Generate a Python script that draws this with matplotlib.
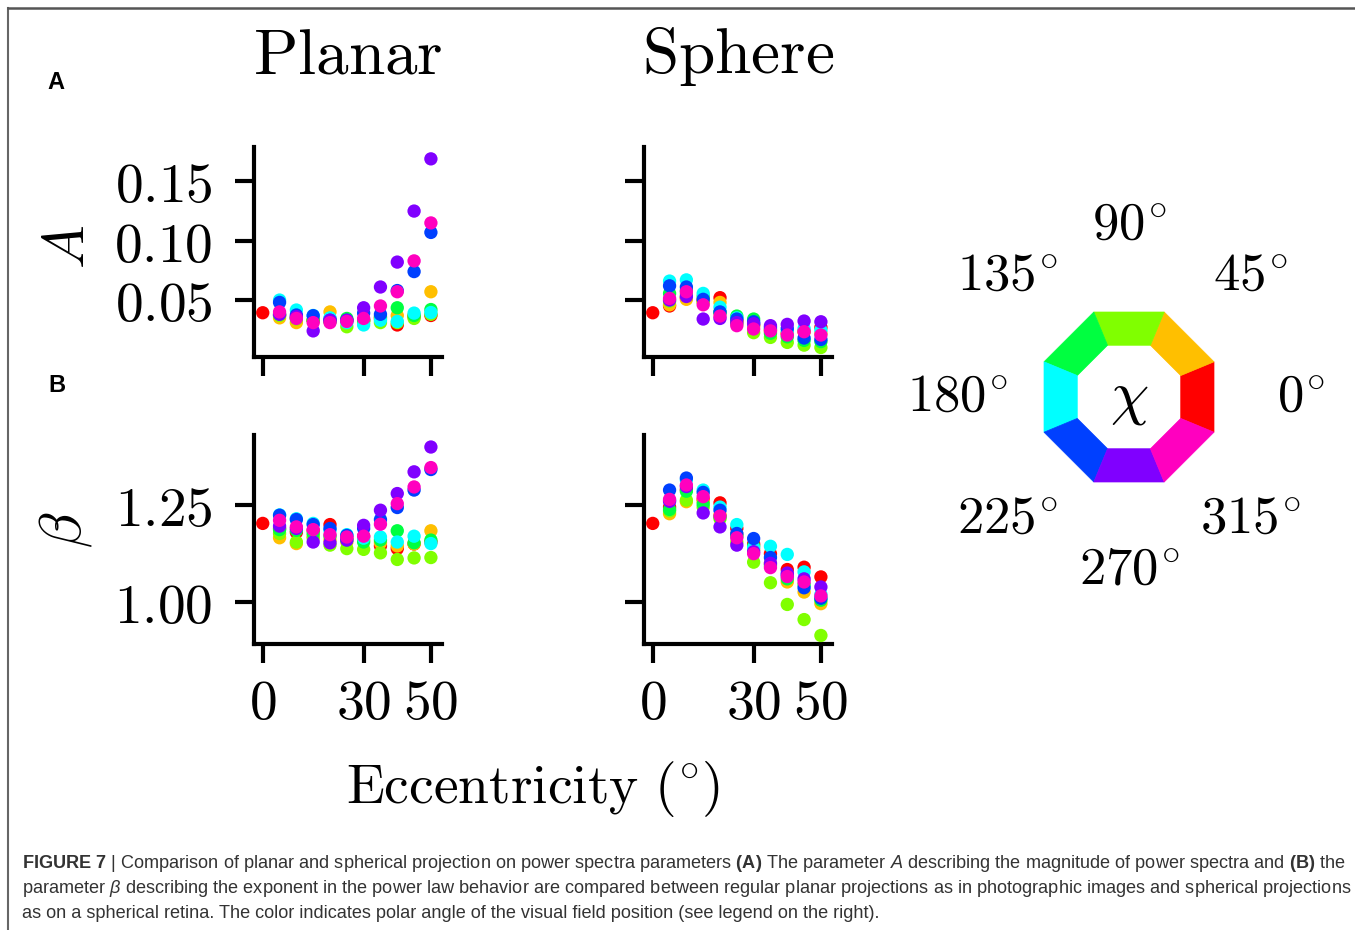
import matplotlib
matplotlib.use("Agg")
import matplotlib.pyplot as plt
from matplotlib import font_manager
from matplotlib.colors import hsv_to_rgb
from matplotlib.patches import Polygon
from matplotlib.lines import Line2D
from matplotlib.ticker import FuncFormatter
import numpy as np

# ---- data -------------------------------------------------------------
angles = [0, 45, 90, 135, 180, 225, 270, 315]
ecc = [5, 10, 15, 20, 25, 30, 35, 40, 45, 50]
center_A = 0.0393
center_beta = 1.203

# rows follow the order of `angles`
planar_A = [
    [0.037, 0.035, 0.033, 0.034, 0.033, 0.033, 0.035, 0.029, 0.036, 0.037],
    [0.035, 0.031, 0.033, 0.040, 0.032, 0.033, 0.034, 0.037, 0.037, 0.057],
    [0.037, 0.034, 0.033, 0.032, 0.0275, 0.031, 0.031, 0.031, 0.0345, 0.038],
    [0.038, 0.035, 0.033, 0.032, 0.0345, 0.033, 0.036, 0.0435, 0.037, 0.042],
    [0.050, 0.0416, 0.037, 0.035, 0.031, 0.029, 0.033, 0.032, 0.039, 0.0395],
    [0.048, 0.0374, 0.0368, 0.033, 0.033, 0.039, 0.038, 0.058, 0.074, 0.107],
    [0.038, 0.036, 0.024, 0.033, 0.033, 0.0435, 0.061, 0.082, 0.125, 0.169],
    [0.040, 0.0345, 0.031, 0.031, 0.032, 0.0345, 0.045, 0.057, 0.083, 0.115],
]
sphere_A = [
    [0.045, 0.052, 0.050, 0.052, 0.033, 0.029, 0.025, 0.022, 0.024, 0.027],
    [0.046, 0.0506, 0.049, 0.048, 0.032, 0.028, 0.024, 0.022, 0.023, 0.022],
    [0.049, 0.055, 0.048, 0.039, 0.030, 0.0225, 0.0185, 0.0143, 0.012, 0.010],
    [0.0556, 0.058, 0.053, 0.040, 0.0365, 0.034, 0.022, 0.019, 0.016, 0.015],
    [0.066, 0.067, 0.0556, 0.044, 0.035, 0.030, 0.026, 0.024, 0.026, 0.0247],
    [0.062, 0.061, 0.0506, 0.040, 0.034, 0.0317, 0.027, 0.026, 0.018, 0.0168],
    [0.050, 0.053, 0.034, 0.0345, 0.031, 0.030, 0.0284, 0.0295, 0.0323, 0.0317],
    [0.0514, 0.057, 0.046, 0.0365, 0.0284, 0.0256, 0.024, 0.0205, 0.0233, 0.0205],
]
planar_beta = [
    [1.19, 1.18, 1.185, 1.20, 1.165, 1.17, 1.145, 1.138, 1.15, 1.155],
    [1.166, 1.151, 1.17, 1.16, 1.155, 1.16, 1.153, 1.145, 1.15, 1.184],
    [1.177, 1.155, 1.165, 1.147, 1.138, 1.136, 1.127, 1.11, 1.114, 1.115],
    [1.187, 1.185, 1.177, 1.17, 1.16, 1.155, 1.16, 1.184, 1.153, 1.16],
    [1.225, 1.215, 1.203, 1.185, 1.174, 1.165, 1.168, 1.155, 1.17, 1.151],
    [1.224, 1.213, 1.20, 1.19, 1.172, 1.19, 1.213, 1.244, 1.289, 1.342],
    [1.196, 1.19, 1.155, 1.153, 1.16, 1.198, 1.237, 1.28, 1.336, 1.40],
    [1.211, 1.194, 1.187, 1.174, 1.168, 1.17, 1.201, 1.254, 1.297, 1.347],
]
sphere_beta = [
    [1.245, 1.29, 1.265, 1.256, 1.19, 1.15, 1.125, 1.084, 1.09, 1.065],
    [1.228, 1.259, 1.26, 1.225, 1.175, 1.135, 1.10, 1.052, 1.026, 0.996],
    [1.235, 1.263, 1.245, 1.215, 1.155, 1.103, 1.05, 0.994, 0.955, 0.914],
    [1.239, 1.286, 1.253, 1.22, 1.17, 1.145, 1.095, 1.06, 1.045, 1.005],
    [1.262, 1.315, 1.289, 1.245, 1.20, 1.14, 1.144, 1.123, 1.078, 1.02],
    [1.289, 1.32, 1.283, 1.237, 1.177, 1.164, 1.115, 1.07, 1.037, 1.01],
    [1.26, 1.298, 1.23, 1.194, 1.147, 1.13, 1.10, 1.075, 1.06, 1.039],
    [1.265, 1.302, 1.272, 1.222, 1.166, 1.125, 1.089, 1.066, 1.052, 1.016],
]

# ---- fonts ------------------------------------------------------------
names = {f.name for f in font_manager.fontManager.ttflist}
cap_font = "Liberation Sans Narrow" if "Liberation Sans Narrow" in names else "Liberation Sans"
plt.rcParams["mathtext.fontset"] = "cm"
plt.rcParams["mathtext.rm"] = cap_font
plt.rcParams["mathtext.it"] = cap_font + ":italic"
plt.rcParams["mathtext.bf"] = cap_font + ":bold"

W, H = 1355, 930
fig = plt.figure(figsize=(W / 100, H / 100), dpi=100)


def px_axes(x0, y0, x1, y1):
    return fig.add_axes([x0 / W, 1 - y1 / H, (x1 - x0) / W, (y1 - y0) / H])


colors = [hsv_to_rgb([a / 360, 1, 1]) for a in angles]
DEG = r"^{\!\circ}"


def panel(ax, vals, center, ylim, yticks, ylabels, xlabels):
    for c, v in zip(colors, vals):
        ax.scatter(ecc, v, s=92, color=c, edgecolors="none", zorder=3)
    ax.scatter([0], [center], s=92, color=colors[0], edgecolors="none", zorder=3)
    ax.set_xlim(-2.6, 53.3)
    ax.set_ylim(*ylim)
    ax.set_xticks([0, 30, 50])
    ax.set_yticks(yticks)
    for s in ["top", "right"]:
        ax.spines[s].set_visible(False)
    for s in ["left", "bottom"]:
        ax.spines[s].set_linewidth(3)
    ax.tick_params(axis="both", width=3, length=14, labelsize=40)
    ax.tick_params(axis="y", pad=16)
    ax.tick_params(axis="x", pad=10)
    ax.yaxis.set_major_formatter(FuncFormatter(lambda v, p: "$%.2f$" % v))
    ax.xaxis.set_major_formatter(FuncFormatter(lambda v, p: "$%d$" % v))
    if not ylabels:
        ax.set_yticklabels([])
    if not xlabels:
        ax.set_xticklabels([])


ax1 = px_axes(254, 147, 442, 357)
ax2 = px_axes(644, 147, 832, 357)
ax3 = px_axes(254, 435, 442, 644)
ax4 = px_axes(644, 435, 832, 644)

A_lim = (0.002, 0.179)
B_lim = (0.892, 1.431)
panel(ax1, planar_A, center_A, A_lim, [0.05, 0.10, 0.15], True, False)
panel(ax2, sphere_A, center_A, A_lim, [0.05, 0.10, 0.15], False, False)
panel(ax3, planar_beta, center_beta, B_lim, [1.00, 1.25], True, True)
panel(ax4, sphere_beta, center_beta, B_lim, [1.00, 1.25], False, True)

# titles and labels
fig.text(348 / W, 1 - 73 / H, r"$\mathrm{Planar}$", fontsize=47, ha="center", va="baseline")
fig.text(738 / W, 1 - 73 / H, r"$\mathrm{Sphere}$", fontsize=47, ha="center", va="baseline")
fig.text(68 / W, 1 - 247 / H, r"$A$", fontsize=42, ha="center", va="center", rotation=90)
fig.text(66 / W, 1 - 530 / H, r"$\beta$", fontsize=42, ha="center", va="center", rotation=90)
fig.text(533 / W, 1 - 803 / H, r"$\mathrm{Eccentricity}\ (" + DEG + r"\!)$", fontsize=40,
         ha="center", va="baseline")
fig.text(47 / W, 1 - 89 / H, "A", fontsize=17, fontweight="bold", family="Liberation Sans")
fig.text(48 / W, 1 - 392 / H, "B", fontsize=17, fontweight="bold", family="Liberation Sans")

# colour legend (octagon)
lg = px_axes(880, 180, 1355, 610)
lg.set_xlim(-249, 226)
lg.set_ylim(-213, 217)
lg.set_aspect("equal")
lg.axis("off")
R_out, R_in = 92, 56
for a, c in zip(angles, colors):
    t0, t1 = np.radians(a - 22.5), np.radians(a + 22.5)
    pts = [(R_out * np.cos(t0), R_out * np.sin(t0)), (R_out * np.cos(t1), R_out * np.sin(t1)),
           (R_in * np.cos(t1), R_in * np.sin(t1)), (R_in * np.cos(t0), R_in * np.sin(t0))]
    lg.add_patch(Polygon(pts, closed=True, facecolor=c, edgecolor=c, lw=0.5))
    r = 172
    lg.text(r * np.cos(np.radians(a)), r * np.sin(np.radians(a)), r"$%d" % a + DEG + "$",
            fontsize=38, ha="center", va="center")
lg.text(0, 0, r"$\chi$", fontsize=44, ha="center", va="center")

# caption
lines = [
    r"$\mathbf{FIGURE\ 7}$ | Comparison of planar and spherical projection on power spectra "
    r"parameters $\mathbf{(A)}$ The parameter $\mathit{A}$ describing the magnitude of power "
    r"spectra and $\mathbf{(B)}$ the",
    r"parameter $\mathit{\beta}$ describing the exponent in the power law behavior are compared "
    r"between regular planar projections as in photographic images and spherical projections",
    "as on a spherical retina. The color indicates polar angle of the visual field position "
    "(see legend on the right).",
]
caps = []
for i, ln in enumerate(lines):
    t = fig.text(22 / W, 1 - (868 + 25 * i) / H, ln, fontsize=12, family=cap_font,
                 color="#333333", va="baseline", ha="left", math_fontfamily="custom")
    caps.append(t)
fig.canvas.draw()
wpx = caps[0].get_window_extent().width
for t in caps:
    t.set_fontsize(12 * 1318 / wpx)

# frame lines (top and left)
fig.add_artist(Line2D([8 / W, 8 / W], [0, 1 - 8 / H], transform=fig.transFigure,
                      color="#666666", lw=1.5))
fig.add_artist(Line2D([8 / W, 1], [1 - 8 / H, 1 - 8 / H], transform=fig.transFigure,
                      color="#555555", lw=1.8))

fig.savefig("out.png", dpi=100)
